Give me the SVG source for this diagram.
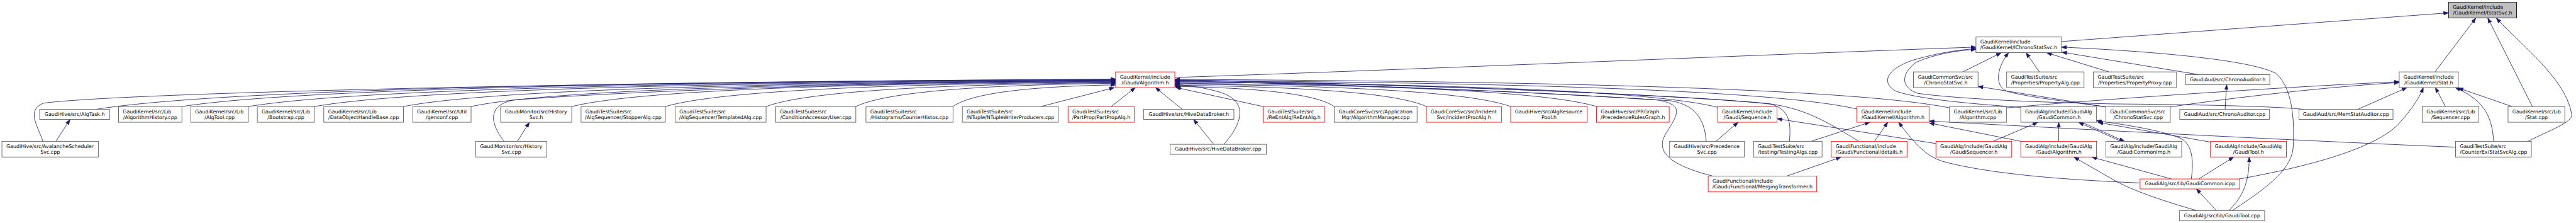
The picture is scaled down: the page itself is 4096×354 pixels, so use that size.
<svg xmlns="http://www.w3.org/2000/svg" width="4096" height="354" viewBox="0 0 4096 354">
<defs>
<style>
.n rect{fill:#ffffff;stroke:#555555;stroke-width:1.4}
.r rect{stroke:#ff0000}
.g rect{fill:#bfbfbf;stroke:#000000}
text{font-family:"DejaVu Sans","Liberation Sans",sans-serif;font-size:12.9px;fill:#000000}
.m{text-anchor:middle}
.e path{fill:none;stroke:#191970;stroke-width:1.35;marker-end:url(#a)}
</style>
<marker id="a" viewBox="0 0 14 10" refX="13" refY="5" markerWidth="14" markerHeight="10" markerUnits="userSpaceOnUse" orient="auto"><path d="M0,0.3 L13,5 L0,9.7 Z" fill="#191970" stroke="#191970" stroke-width="1"/></marker>
</defs>
<rect x="0" y="0" width="4096" height="354" fill="#ffffff"/>
<g transform="scale(0.618)">
<g id="edges" class="e">
<!-- into Gaudi/Algorithm.h from the left -->
<path d="M110.5,363 C95,320 68,282 112,265 C300,240 1400,212 2870.3,203"/>
<path d="M246,281 C508.4,238.65 1295.7,210.2 2870.3,204"/>
<path d="M468,273.7 C708.2,235.9 1428.9,210.5 2870.3,205"/>
<path d="M639,273.7 C862.1,236.5 1531.5,211.4 2870.3,206"/>
<path d="M809,273.7 C1015.1,237 1633.5,212.3 2870.3,207"/>
<path d="M1038,273.7 C1221.2,237.6 1770.9,213.3 2870.3,208"/>
<path d="M1212,273.7 C1377.8,238.1 1875.3,214.2 2870.3,209"/>
<path d="M1471,273.7 C1610.9,238.7 2030.7,215.1 2870.3,210"/>
<path d="M1297,363 C1262,318 1252,272 1320,257 C1700,228 2400,210 2870.3,205.5"/>
<path d="M1712,273.7 C1827.8,239.2 2175.3,216 2870.3,211"/>
<path d="M1971,273.7 C2060.9,240 2330.7,217.4 2870.3,212.5"/>
<path d="M2202,273.7 C2268.8,240.9 2469.3,218.8 2870.3,214"/>
<path d="M2452,273.7 C2493.8,243.1 2619.3,222.5 2870.3,218"/>
<path d="M2678,273.7 L2867,225"/>
<path d="M2859,273.7 L2921,225"/>
<path d="M3042,281 L2973,225"/>
<!-- into Gaudi/Algorithm.h from the right -->
<path d="M3250,273.7 L3025,224.5"/>
<path d="M3433,273.7 C3392,245.3 3268.9,226.1 3022.7,222"/>
<path d="M3670,273.7 C3605.3,243.6 3411.1,223.4 3022.7,219"/>
<path d="M3886.7,273.7 C3800.3,242 3541.1,220.6 3022.7,216"/>
<path d="M4107.7,273.7 C3999.2,240.9 3673.7,218.8 3022.7,214"/>
<path d="M3149,370.7 C3195,318 3215,262 3140,237 C3095,224 3060,220 3023,217"/>
<path d="M4419.3,275.7 C4279.6,240.1 3860.7,216.2 3022.7,211"/>
<path d="M4390,363 C4386,318 4372,272 4300,259 C3900,232 3300,212 3022.7,209.5"/>
<path d="M4407,452.3 C4300,425 4258,392 4285,345 C4318,292 4335,270 4265,257 C3900,232 3300,212 3022.7,208"/>
<path d="M4777.7,280 C4602.2,239.9 4075.7,212.8 3022.7,207"/>
<path d="M4604,363 C4608,318 4606,284 4560,268 C4300,238 3400,212 3022.7,206"/>
<path d="M4782.7,363 C4700,312 4640,276 4540,265 C4200,236 3400,211 3022.7,205"/>
<path d="M5015.7,277 C4816.4,236.9 4218.5,209.8 3022.7,204"/>
<!-- small ones -->
<path d="M144,363 L180,307"/>
<path d="M1331,363 L1362,314.5"/>
<path d="M3123,370.7 L3071,307"/>
<!-- IChronoStatSvc / IStatSvc -->
<path d="M3023,199 C3600,180 4600,138 5084,121"/>
<path d="M5304,106.7 L6300,33"/>
<path d="M6265,184.7 L6370,46.5"/>
<path d="M6515.6,273.7 L6401,46.5"/>
<path d="M6504,363 C6570,330 6625,312 6616,290 C6600,200 6480,110 6423,46.5"/>
<path d="M5050,184.7 L5149,135.5"/>
<path d="M5418.3,274.7 C5330,262 5220,250 5165,235 C5128,220 5140,170 5168,135.5"/>
<path d="M5247,184.7 L5213,135.5"/>
<path d="M5426,184.7 L5266,135.5"/>
<path d="M5658,191.7 L5305,134"/>
<path d="M5743,541.3 C5820,490 5895,440 5900,380 C5905,300 5895,220 5855,188 C5780,150 5500,130 5304,121"/>
<path d="M5199.3,276 C5100,268 4950,258 4880,235 C4840,215 4850,180 4920,155 C4990,135 5040,128 5084,125"/>
<path d="M5928,281 C5850,272 5600,268 5440,267 C5250,263 5050,255 4935,240 C4890,225 4890,190 4930,160 C4980,138 5040,129 5084,127"/>
<!-- Stat.h and others -->
<path d="M5725,281 L5729,217.4"/>
<path d="M5163,277 C5400,255 5900,222 6173,210"/>
<path d="M5584,274.7 C5750,250 6000,222 6173,212"/>
<path d="M5418.3,274.7 L5089.3,222"/>
<path d="M6066,281 L6193,225"/>
<path d="M5760,460 C5900,435 6100,390 6170,320 C6210,275 6225,250 6235,225"/>
<path d="M6292,273.7 L6266,225"/>
<path d="M6416,363 C6412,310 6400,260 6317,225"/>
<path d="M6463.5,273.7 L6325,226"/>
<!-- GaudiCommon.h -->
<path d="M5128,363 L5243,314.3"/>
<path d="M5297,363 L5297,314.3"/>
<path d="M5458,363 L5348,314.3"/>
<path d="M5357,314.3 L5466,363"/>
<path d="M5687.3,365 L5398,314.3"/>
<path d="M5638,459.7 C5645,410 5640,370 5610,355 C5560,335 5480,322 5394.3,310"/>
<!-- GaudiAlgorithm.h / GaudiTool.h / icpp -->
<path d="M5587,459.7 L5382,403.5"/>
<path d="M5653,541.3 C5580,520 5500,495 5445,466 L5336,403.5"/>
<path d="M5657,459.7 L5747,403.5"/>
<path d="M5735,541.3 C5770,505 5787,470 5787,403.5"/>
<path d="M5703,541.3 L5651,485"/>
<!-- GaudiKernel/Algorithm.h -->
<path d="M4660,363 L4811,314"/>
<path d="M4823,363 L4857,314"/>
<path d="M5506.3,470 C5400,465 5150,455 5000,415 C4950,400 4920,360 4885,314"/>
<path d="M5199.3,363 L4964,316"/>
<path d="M6318,378 C6000,365 5500,340 4964,311"/>
<!-- Sequence.h / details.h -->
<path d="M4981,368.7 L4572.3,305"/>
<path d="M4415,363 L4472,314"/>
<path d="M4597,452.3 L4737,403.5"/>
</g>
<g id="n_IStatSvc" class="n g"><rect x="6300" y="5.5" width="175" height="40.5"/><text x="6311" y="22.3">GaudiKernel/include</text><text class="m" x="6387.5" y="36.9">/GaudiKernel/IStatSvc.h</text></g>
<g id="n_IChronoStatSvc" class="n"><rect x="5084" y="95" width="220" height="40.3"/><text x="5095" y="111.8">GaudiKernel/include</text><text class="m" x="5194" y="126.4">/GaudiKernel/IChronoStatSvc.h</text></g>
<g id="n_GaudiAlgorithm_h" class="n r"><rect x="2870.3" y="184.7" width="152.4" height="40.3"/><text x="2881.3" y="201.5">GaudiKernel/include</text><text class="m" x="2946.5" y="216.1">/Gaudi/Algorithm.h</text></g>
<g id="n_ChronoStatSvc_h" class="n"><rect x="4923.3" y="184.7" width="166" height="40.3"/><text x="4934.3" y="201.5">GaudiCommonSvc/src</text><text class="m" x="5006.3" y="216.1">/ChronoStatSvc.h</text></g>
<g id="n_PropertyAlg" class="n"><rect x="5163" y="184.7" width="199" height="40.3"/><text x="5174" y="201.5">GaudiTestSuite/src</text><text class="m" x="5262.5" y="216.1">/Properties/PropertyAlg.cpp</text></g>
<g id="n_PropertyProxy" class="n"><rect x="5386" y="184.7" width="214" height="40.3"/><text x="5397" y="201.5">GaudiTestSuite/src</text><text class="m" x="5493" y="216.1">/Properties/PropertyProxy.cpp</text></g>
<g id="n_ChronoAuditor_h" class="n"><rect x="5623.3" y="191.7" width="216.7" height="25.7"/><text class="m" x="5731.7" y="208">GaudiAud/src/ChronoAuditor.h</text></g>
<g id="n_Stat_h" class="n"><rect x="6173" y="184.7" width="152" height="40.3"/><text x="6184" y="201.5">GaudiKernel/include</text><text class="m" x="6249" y="216.1">/GaudiKernel/Stat.h</text></g>
<g id="n_AlgTask" class="n"><rect x="102" y="281" width="180" height="25.7"/><text class="m" x="192" y="297.3">GaudiHive/src/AlgTask.h</text></g>
<g id="n_AlgorithmHistory" class="n"><rect x="305" y="273.7" width="163" height="40.3"/><text x="316" y="290.5">GaudiKernel/src/Lib</text><text class="m" x="386.5" y="305.1">/AlgorithmHistory.cpp</text></g>
<g id="n_AlgTool" class="n"><rect x="491" y="273.7" width="148" height="40.3"/><text x="502" y="290.5">GaudiKernel/src/Lib</text><text class="m" x="565" y="305.1">/AlgTool.cpp</text></g>
<g id="n_Bootstrap" class="n"><rect x="662" y="273.7" width="147" height="40.3"/><text x="673" y="290.5">GaudiKernel/src/Lib</text><text class="m" x="735.5" y="305.1">/Bootstrap.cpp</text></g>
<g id="n_DataObjectHandleBase" class="n"><rect x="833" y="273.7" width="205" height="40.3"/><text x="844" y="290.5">GaudiKernel/src/Lib</text><text class="m" x="935.5" y="305.1">/DataObjectHandleBase.cpp</text></g>
<g id="n_genconf" class="n"><rect x="1062" y="273.7" width="150" height="40.3"/><text x="1073" y="290.5">GaudiKernel/src/Util</text><text class="m" x="1137" y="305.1">/genconf.cpp</text></g>
<g id="n_HistorySvc_h" class="n"><rect x="1288" y="273.7" width="183" height="40.3"/><text x="1299" y="290.5">GaudiMonitor/src/History</text><text class="m" x="1379.5" y="305.1">Svc.h</text></g>
<g id="n_StopperAlg" class="n"><rect x="1495" y="273.7" width="217" height="40.3"/><text x="1506" y="290.5">GaudiTestSuite/src</text><text class="m" x="1603.5" y="305.1">/AlgSequencer/StopperAlg.cpp</text></g>
<g id="n_TemplatedAlg" class="n"><rect x="1737" y="273.7" width="234" height="40.3"/><text x="1748" y="290.5">GaudiTestSuite/src</text><text class="m" x="1854" y="305.1">/AlgSequencer/TemplatedAlg.cpp</text></g>
<g id="n_User" class="n"><rect x="1996" y="273.7" width="206" height="40.3"/><text x="2007" y="290.5">GaudiTestSuite/src</text><text class="m" x="2099" y="305.1">/ConditionAccessor/User.cpp</text></g>
<g id="n_CounterHistos" class="n"><rect x="2228" y="273.7" width="224" height="40.3"/><text x="2239" y="290.5">GaudiTestSuite/src</text><text class="m" x="2340" y="305.1">/Histograms/CounterHistos.cpp</text></g>
<g id="n_NTupleWriterProducers" class="n"><rect x="2476" y="273.7" width="247" height="40.3"/><text x="2487" y="290.5">GaudiTestSuite/src</text><text class="m" x="2599.5" y="305.1">/NTuple/NTupleWriterProducers.cpp</text></g>
<g id="n_PartPropAlg" class="n r"><rect x="2748" y="273.7" width="170.7" height="40.3"/><text x="2759" y="290.5">GaudiTestSuite/src</text><text class="m" x="2833.35" y="305.1">/PartProp/PartPropAlg.h</text></g>
<g id="n_HiveDataBroker_h" class="n"><rect x="2942.3" y="281" width="232.4" height="25.7"/><text class="m" x="3058.5" y="297.3">GaudiHive/src/HiveDataBroker.h</text></g>
<g id="n_ReEntAlg" class="n r"><rect x="3250" y="273.7" width="158" height="40.3"/><text x="3261" y="290.5">GaudiTestSuite/src</text><text class="m" x="3329" y="305.1">/ReEntAlg/ReEntAlg.h</text></g>
<g id="n_AlgorithmManager" class="n"><rect x="3433" y="273.7" width="213" height="40.3"/><text x="3444" y="290.5">GaudiCoreSvc/src/Application</text><text class="m" x="3539.5" y="305.1">Mgr/AlgorithmManager.cpp</text></g>
<g id="n_IncidentProcAlg" class="n r"><rect x="3670" y="273.7" width="193" height="40.3"/><text x="3681" y="290.5">GaudiCoreSvc/src/Incident</text><text class="m" x="3766.5" y="305.1">Svc/IncidentProcAlg.h</text></g>
<g id="n_AlgResourcePool" class="n r"><rect x="3886.7" y="273.7" width="197.3" height="40.3"/><text x="3897.7" y="290.5">GaudiHive/src/AlgResource</text><text class="m" x="3985.35" y="305.1">Pool.h</text></g>
<g id="n_PrecedenceRulesGraph" class="n r"><rect x="4107.7" y="273.7" width="187" height="40.3"/><text x="4118.7" y="290.5">GaudiHive/src/PRGraph</text><text class="m" x="4201.2" y="305.1">/PrecedenceRulesGraph.h</text></g>
<g id="n_Sequence" class="n r"><rect x="4419.3" y="273.7" width="153" height="40.3"/><text x="4430.3" y="290.5">GaudiKernel/include</text><text class="m" x="4495.8" y="305.1">/Gaudi/Sequence.h</text></g>
<g id="n_GKAlgorithm_h" class="n r"><rect x="4777.7" y="273.7" width="185.6" height="40.3"/><text x="4788.7" y="290.5">GaudiKernel/include</text><text class="m" x="4870.5" y="305.1">/GaudiKernel/Algorithm.h</text></g>
<g id="n_Algorithm_cpp" class="n"><rect x="5015.7" y="273.7" width="146.6" height="40.3"/><text x="5026.7" y="290.5">GaudiKernel/src/Lib</text><text class="m" x="5089" y="305.1">/Algorithm.cpp</text></g>
<g id="n_GaudiCommon_h" class="n"><rect x="5199.3" y="273.7" width="195" height="40.3"/><text x="5210.3" y="290.5">GaudiAlg/include/GaudiAlg</text><text class="m" x="5296.8" y="305.1">/GaudiCommon.h</text></g>
<g id="n_ChronoStatSvc_cpp" class="n"><rect x="5418.3" y="273.7" width="165.7" height="40.3"/><text x="5429.3" y="290.5">GaudiCommonSvc/src</text><text class="m" x="5501.15" y="305.1">/ChronoStatSvc.cpp</text></g>
<g id="n_ChronoAuditor_cpp" class="n"><rect x="5608.3" y="281" width="231" height="25.7"/><text class="m" x="5723.8" y="297.3">GaudiAud/src/ChronoAuditor.cpp</text></g>
<g id="n_MemStatAuditor" class="n"><rect x="5915" y="281" width="242" height="25.7"/><text class="m" x="6036" y="297.3">GaudiAud/src/MemStatAuditor.cpp</text></g>
<g id="n_Sequencer" class="n"><rect x="6232" y="273.7" width="146" height="40.3"/><text x="6243" y="290.5">GaudiKernel/src/Lib</text><text class="m" x="6305" y="305.1">/Sequencer.cpp</text></g>
<g id="n_Stat_cpp" class="n"><rect x="6453" y="273.7" width="146" height="40.3"/><text x="6464" y="290.5">GaudiKernel/src/Lib</text><text class="m" x="6526" y="305.1">/Stat.cpp</text></g>
<g id="n_AvalancheSchedulerSvc" class="n"><rect x="5" y="363" width="248" height="40.3"/><text x="16" y="379.8">GaudiHive/src/AvalancheScheduler</text><text class="m" x="129" y="394.4">Svc.cpp</text></g>
<g id="n_HistorySvc_cpp" class="n"><rect x="1224" y="363" width="183" height="40.3"/><text x="1235" y="379.8">GaudiMonitor/src/History</text><text class="m" x="1315.5" y="394.4">Svc.cpp</text></g>
<g id="n_HiveDataBroker_cpp" class="n"><rect x="3010.7" y="370.7" width="247.3" height="25.7"/><text class="m" x="3134.35" y="387">GaudiHive/src/HiveDataBroker.cpp</text></g>
<g id="n_PrecedenceSvc" class="n"><rect x="4295.7" y="363" width="192.3" height="40.3"/><text x="4306.7" y="379.8">GaudiHive/src/Precedence</text><text class="m" x="4391.85" y="394.4">Svc.cpp</text></g>
<g id="n_TestingAlgs" class="n"><rect x="4511.7" y="363" width="176.3" height="40.3"/><text x="4522.7" y="379.8">GaudiTestSuite/src</text><text class="m" x="4599.85" y="394.4">/testing/TestingAlgs.cpp</text></g>
<g id="n_details" class="n r"><rect x="4711.7" y="363" width="195" height="40.3"/><text x="4722.7" y="379.8">GaudiFunctional/include</text><text class="m" x="4809.2" y="394.4">/Gaudi/Functional/details.h</text></g>
<g id="n_GaudiSequencer" class="n r"><rect x="4981" y="363" width="195" height="40.3"/><text x="4992" y="379.8">GaudiAlg/include/GaudiAlg</text><text class="m" x="5078.5" y="394.4">/GaudiSequencer.h</text></g>
<g id="n_GaudiAlgorithm" class="n r"><rect x="5199.3" y="363" width="195" height="40.3"/><text x="5210.3" y="379.8">GaudiAlg/include/GaudiAlg</text><text class="m" x="5296.8" y="394.4">/GaudiAlgorithm.h</text></g>
<g id="n_GaudiCommonImp" class="n"><rect x="5418.3" y="363" width="195" height="40.3"/><text x="5429.3" y="379.8">GaudiAlg/include/GaudiAlg</text><text class="m" x="5515.8" y="394.4">/GaudiCommonImp.h</text></g>
<g id="n_GaudiTool_h" class="n r"><rect x="5687.3" y="363" width="195.5" height="40.3"/><text x="5698.3" y="379.8">GaudiAlg/include/GaudiAlg</text><text class="m" x="5785.05" y="394.4">/GaudiTool.h</text></g>
<g id="n_StatSvcAlg" class="n"><rect x="6318" y="363" width="195" height="40.3"/><text x="6329" y="379.8">GaudiTestSuite/src</text><text class="m" x="6415.5" y="394.4">/CounterEx/StatSvcAlg.cpp</text></g>
<g id="n_MergingTransformer" class="n r"><rect x="4395" y="452.3" width="279.3" height="40.3"/><text x="4406" y="469.1">GaudiFunctional/include</text><text class="m" x="4534.65" y="483.7">/Gaudi/Functional/MergingTransformer.h</text></g>
<g id="n_GaudiCommon_icpp" class="n r"><rect x="5506.3" y="459.7" width="256.4" height="25.7"/><text class="m" x="5634.5" y="476">GaudiAlg/src/lib/GaudiCommon.icpp</text></g>
<g id="n_GaudiTool_cpp" class="n"><rect x="5607.3" y="541.3" width="219.4" height="25.7"/><text class="m" x="5717" y="557.6">GaudiAlg/src/lib/GaudiTool.cpp</text></g>
</g>
</svg>
